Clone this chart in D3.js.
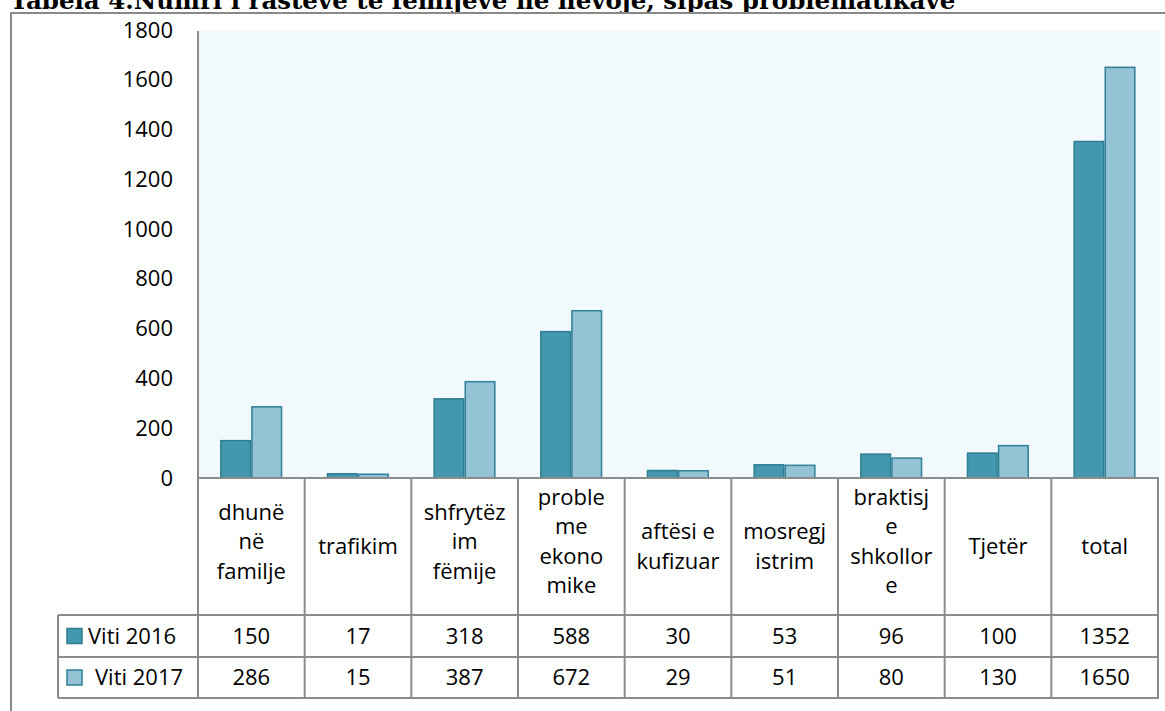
<!DOCTYPE html>
<html>
<head>
<meta charset="utf-8">
<script src="https://cdn.jsdelivr.net/npm/d3@7"></script>
<style>
  body { margin: 0; background: #fff; }
  svg { display: block; }
</style>
</head>
<body>
<script>
const title = "Tabela 4.Numri i rasteve të fëmijëve në nevojë, sipas problematikave";
const categories = ["dhunë në familje", "trafikim", "shfrytëzim fëmije", "probleme ekonomike",
  "aftësi e kufizuar", "mosregjistrim", "braktisje shkollore", "Tjetër", "total"];
// header lines as wrapped in the picture
const headerLines = [
  ["dhunë", "në", "familje"],
  ["trafikim"],
  ["shfrytëz", "im", "fëmije"],
  ["proble", "me", "ekono", "mike"],
  ["aftësi e", "kufizuar"],
  ["mosregj", "istrim"],
  ["braktisj", "e", "shkollor", "e"],
  ["Tjetër"],
  ["total"]
];
const seriesNames = ["Viti 2016", "Viti 2017"];
const values2016 = [150, 17, 318, 588, 30, 53, 96, 100, 1352];
const values2017 = [286, 15, 387, 672, 29, 51, 80, 130, 1650];
const yTicks = [0, 200, 400, 600, 800, 1000, 1200, 1400, 1600, 1800];

const W = 1165, H = 711;
const plotLeft = 198, plotRight = 1158, plotTop = 30, base = 478;
const rowHead = 615, row1 = 657, row2 = 698, legendLeft = 58;
const font = "'Open Sans', sans-serif";
const fs = 22;
const fills = ["#4397ae", "#93c3d4"];
const strokes = ["#2f7d93", "#31809a"];
const grid = "#8c8c8c";

const svg = d3.select("body").append("svg").attr("width", W).attr("height", H);

// title (cut off at top, as in the source)
svg.append("text").attr("x", 10).attr("y", 9)
  .attr("font-family", "'DejaVu Serif', serif").attr("font-weight", "bold")
  .attr("font-size", 24.5).attr("fill", "#000").text(title);

// outer frame
svg.append("path").attr("d", `M11,${H} V13 H${W}`).attr("fill", "none")
  .attr("stroke", "#888").attr("stroke-width", 2);

const x0 = d3.scaleBand().domain(categories).range([plotLeft, plotRight]).padding(0);
const x1 = d3.scaleBand().domain(seriesNames)
  .range([x0.bandwidth() * 0.207, x0.bandwidth() * 0.79]).padding(0);
const y = d3.scaleLinear().domain([0, 1800]).range([base, plotTop]);

// plot background
svg.append("rect").attr("x", plotLeft).attr("y", y(1800)).attr("width", plotRight - plotLeft + 2)
  .attr("height", base - y(1800)).attr("fill", "#f2f9fd");

// bars
const data = categories.map((c, i) => ({ c, vals: [values2016[i], values2017[i]] }));
const g = svg.append("g").selectAll("g").data(data).join("g")
  .attr("transform", d => `translate(${x0(d.c)},0)`);
g.selectAll("rect").data(d => d.vals.map((v, k) => ({ v, k })))
  .join("rect")
  .attr("x", d => x1(seriesNames[d.k]) + 0.75)
  .attr("y", d => y(d.v))
  .attr("width", x1.bandwidth() - 1.5)
  .attr("height", d => base - y(d.v))
  .attr("fill", d => fills[d.k])
  .attr("stroke", d => strokes[d.k]).attr("stroke-width", 1.5);

// y axis
const yAxis = svg.append("g").attr("transform", `translate(${plotLeft},0)`)
  .call(d3.axisLeft(y).tickValues(yTicks).tickFormat(d3.format("d")).tickSize(0).tickPadding(25));
yAxis.select(".domain").remove();
yAxis.selectAll("text").attr("font-family", font).attr("font-size", fs).attr("fill", "#000");
svg.append("line").attr("x1", plotLeft).attr("x2", plotLeft).attr("y1", y(1800) + 1).attr("y2", row2)
  .attr("stroke", grid).attr("stroke-width", 2);

// table lines
const lines = svg.append("g").attr("stroke", grid).attr("stroke-width", 2);
lines.append("line").attr("x1", plotLeft).attr("x2", plotRight + 1).attr("y1", base).attr("y2", base);
[rowHead, row1, row2].forEach(yy =>
  lines.append("line").attr("x1", legendLeft).attr("x2", plotRight + 1).attr("y1", yy).attr("y2", yy));
lines.append("line").attr("x1", legendLeft).attr("x2", legendLeft).attr("y1", rowHead).attr("y2", row2);
categories.forEach(c => {
  const xx = x0(c) + x0.bandwidth();
  lines.append("line").attr("x1", xx).attr("x2", xx).attr("y1", base).attr("y2", row2);
});

// header labels
const lh = 29.5;
const headers = svg.append("g").attr("font-family", font).attr("font-size", fs)
  .attr("text-anchor", "middle").attr("fill", "#000");
headerLines.forEach((ls, i) => {
  const cx = x0(categories[i]) + x0.bandwidth() / 2;
  const cy = (base + rowHead) / 2 - (ls.length > 2 ? 5 : 0);
  ls.forEach((t, j) => {
    headers.append("text").attr("x", cx)
      .attr("y", cy + (j - (ls.length - 1) / 2) * lh)
      .attr("dy", "0.35em").text(t);
  });
});

// value rows
const rows = [values2016, values2017];
const rowMid = [(rowHead + row1) / 2, (row1 + row2) / 2];
rows.forEach((vals, k) => {
  svg.append("g").selectAll("text").data(vals).join("text")
    .attr("x", (v, i) => x0(categories[i]) + x0.bandwidth() / 2)
    .attr("y", rowMid[k]).attr("dy", "0.35em")
    .attr("text-anchor", "middle").attr("font-family", font).attr("font-size", fs)
    .text(v => v);
  svg.append("rect").attr("x", 67).attr("y", rowMid[k] - 7.5).attr("width", 15).attr("height", 15)
    .attr("fill", fills[k]).attr("stroke", strokes[k]).attr("stroke-width", 1.5);
  svg.append("text").attr("x", k === 0 ? 88 : 95).attr("y", rowMid[k]).attr("dy", "0.35em")
    .attr("font-family", font).attr("font-size", fs).text(seriesNames[k]);
});
</script>
</body>
</html>
